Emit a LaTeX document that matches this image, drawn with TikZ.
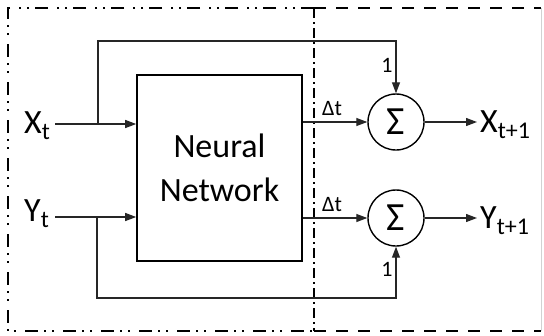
\documentclass[tikz,border=0pt]{standalone}
\usepackage{fontspec}
\setmainfont{Carlito}
\usetikzlibrary{arrows.meta}
\newcommand\subs[1]{\raisebox{-6.5pt}{\fontsize{24}{24}\selectfont #1}}
\begin{document}
\begin{tikzpicture}[x=1pt,y=-1pt,
  conn/.style={line width=1.3pt, draw=black!85},
  arr/.style={conn,-{Triangle[length=11pt,width=8pt]}},
  lbl/.style={inner sep=0pt, font=\fontsize{34}{44}\selectfont},
  small/.style={inner sep=0pt, font=\fontsize{22}{24}\selectfont},
  sumnode/.style={circle, draw, line width=1.4pt, minimum size=56pt, inner sep=0pt, font=\fontsize{40}{40}\selectfont},
  leftframe/.style={line width=1.8pt, dash pattern=on 13pt off 6pt on 2pt off 6pt on 2pt off 9pt},
  rightframe/.style={line width=1.8pt, dash pattern=on 12pt off 10pt},
  divider/.style={line width=1.8pt, dash pattern=on 10pt off 4pt on 2pt off 4pt},
]
\useasboundingbox (0,0) rectangle (544,335);
% frames
\draw[leftframe] (314,8) -- (8,8) -- (8,331) -- (314,331);
\draw[rightframe] (314,8) -- (541,8);
\draw[rightframe] (314,331) -- (541,331);
\draw[line width=0.8pt, gray!35] (541,8) -- (541,331);
\draw[divider] (314,8) -- (314,331);
% nodes
\node[draw, line width=1.6pt, minimum width=165pt, minimum height=186pt, align=center, lbl] (nn) at (219.5,168) {Neural\\Network};
\node[sumnode] (sx) at (396,122) {\raisebox{-2pt}{Σ}};
\node[sumnode] (sy) at (396,218) {\raisebox{-2pt}{Σ}};
\node[lbl, anchor=base west] (xt) at (24,133) {X\subs{t}};
\node[lbl, anchor=base west] (yt) at (24,221) {Y\subs{t}};
\node[lbl, anchor=base west] (xo) at (480,132) {X\subs{t+1}};
\node[lbl, anchor=base west] (yo) at (480,228) {Y\subs{t+1}};
\node[small, anchor=base] (dx) at (332,115) {Δt};
\node[small, anchor=base] (dy) at (332,211) {Δt};
\node[small, anchor=base] (ox) at (387,72) {1};
\node[small, anchor=base] (oy) at (387,276) {1};
% coordinates
\coordinate (xs) at (55,124);
\coordinate (xb) at (98,124);
\coordinate (xtop) at (98,41);
\coordinate (ys) at (55,217);
\coordinate (yb) at (97,217);
\coordinate (ybot) at (97,298);
\coordinate (xend) at (477,122);
\coordinate (yend) at (477,218);
% connectors
\draw[arr] (xs) -- (nn.west |- xs);
\draw[arr] (xb) -- (xtop) -| (sx.north);
\draw[arr] (ys) -- (nn.west |- ys);
\draw[arr] (yb) -- (ybot) -| (sy.south);
\draw[arr] (nn.east |- sx) -- (sx.west);
\draw[arr] (nn.east |- sy) -- (sy.west);
\draw[arr] (sx.east) -- (xend);
\draw[arr] (sy.east) -- (yend);
\end{tikzpicture}
\end{document}
